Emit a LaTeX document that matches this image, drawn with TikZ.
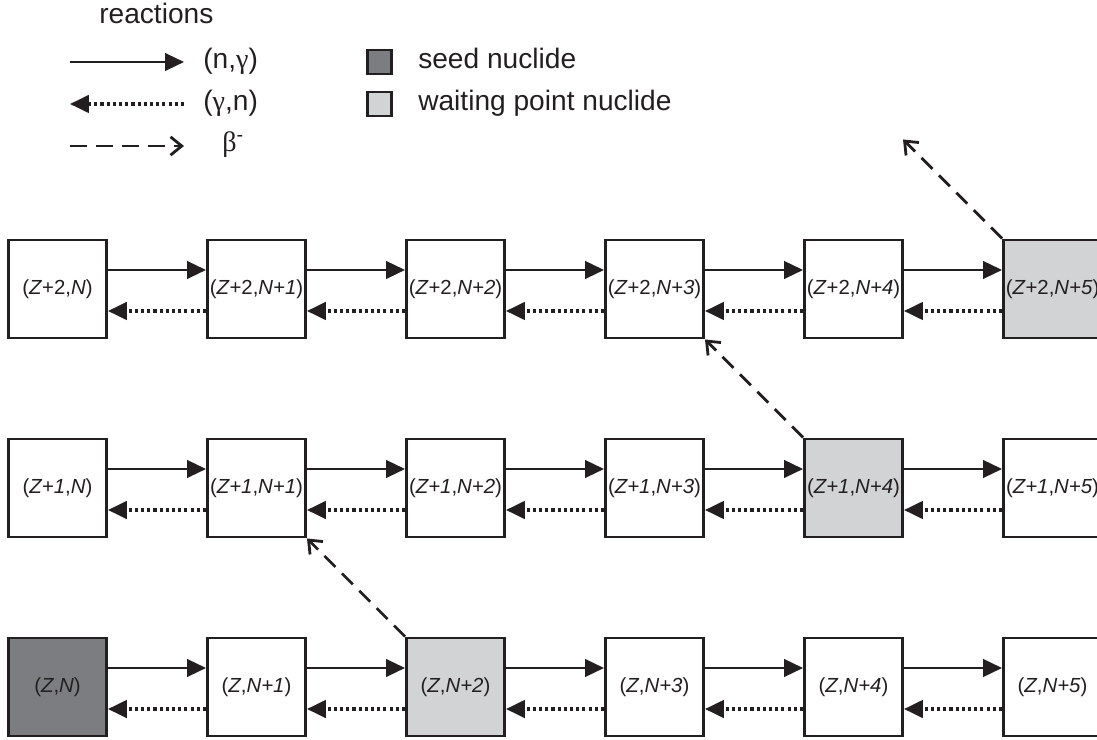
\documentclass[tikz,border=0pt]{standalone}
\usepackage{fontspec}
\setmainfont{Liberation Sans}
\newfontfamily\greekfont{Liberation Serif}
\usetikzlibrary{arrows.meta,positioning}
\definecolor{ink}{HTML}{231F20}
\definecolor{seedgray}{HTML}{7C7D80}
\definecolor{waitgray}{HTML}{D1D3D4}
\tikzset{
  nucbox/.style={rectangle, draw=ink, fill=#1, line width=2.1pt,
    minimum size=2.45cm, inner sep=0pt, text=ink,
    font=\fontsize{14.5}{17}\selectfont},
  nucbox/.default=white,
  keybox/.style={rectangle, draw=ink, fill=#1, line width=2.1pt,
    minimum size=0.6cm, inner sep=0pt},
  keytext/.style={text=ink, inner sep=0pt, anchor=base west,
    font=\fontsize{20}{24}\selectfont},
  ngarrow/.style={-{Triangle[length=13.5pt, width=12.5pt]},
    line width=1.8pt, draw=ink},
  gnarrow/.style={-{Triangle[length=13.5pt, width=12.5pt]},
    line width=2.2pt, draw=ink, dash pattern=on 2.2pt off 2.2pt},
  betaarrow/.style={-{Straight Barb[length=8pt, width=13pt]},
    line width=2pt, draw=ink, dash pattern=on 11pt off 6.5pt},
}
\begin{document}
\begin{tikzpicture}[x=0.025cm, y=-0.025cm, node distance=2.45cm and 2.45cm]
  \useasboundingbox (0,0) rectangle (1097,740);
  % legend
  \node[keytext] (reactions) at (99,24) {reactions};
  \coordinate (ngtail) at (70,62);
  \coordinate (nghead) at (184,62);
  \coordinate (gntail) at (184,104);
  \coordinate (gnhead) at (70,104);
  \coordinate (bttail) at (70,146);
  \coordinate (bthead) at (184,146);
  \draw[ngarrow] (ngtail) -- (nghead);
  \draw[gnarrow] (gntail) -- (gnhead);
  \draw[betaarrow, dash pattern=on 12pt off 6.5pt] (bttail) -- (bthead);
  \node[keytext] (nglabel) at (203,69) {(n,{\greekfont γ})};
  \node[keytext] (gnlabel) at (203,111) {({\greekfont γ},n)};
  \node[keytext] (btlabel) at (222,152) {{\greekfont β}\textsuperscript{-}};
  \node[keybox=seedgray] (seedkey) at (379.5,62) {};
  \node[keybox=waitgray] (waitkey) at (379.5,104) {};
  \node[keytext] (seedlabel) at (418,69) {seed nuclide};
  \node[keytext] (waitlabel) at (418,111) {waiting point nuclide};
  % row Z
  \node[nucbox=seedgray] (z0n0) at (57.5,687) {(\textit{Z},\textit{N})};
  \node[nucbox, right=of z0n0] (z0n1) {(\textit{Z},\textit{N+1})};
  \node[nucbox=waitgray, right=of z0n1] (z0n2) {(\textit{Z},\textit{N+2})};
  \node[nucbox, right=of z0n2] (z0n3) {(\textit{Z},\textit{N+3})};
  \node[nucbox, right=of z0n3] (z0n4) {(\textit{Z},\textit{N+4})};
  \node[nucbox, right=of z0n4] (z0n5) {(\textit{Z},\textit{N+5})};
  % row Z+1
  \node[nucbox, above=of z0n0] (z1n0) {(\textit{Z+1},\textit{N})};
  \node[nucbox, right=of z1n0] (z1n1) {(\textit{Z+1},\textit{N+1})};
  \node[nucbox, right=of z1n1] (z1n2) {(\textit{Z+1},\textit{N+2})};
  \node[nucbox, right=of z1n2] (z1n3) {(\textit{Z+1},\textit{N+3})};
  \node[nucbox=waitgray, right=of z1n3] (z1n4) {(\textit{Z+1},\textit{N+4})};
  \node[nucbox, right=of z1n4] (z1n5) {(\textit{Z+1},\textit{N+5})};
  % row Z+2
  \node[nucbox, above=of z1n0] (z2n0) {(\textit{Z}+2,\textit{N})};
  \node[nucbox, right=of z2n0] (z2n1) {(\textit{Z}+2,\textit{N+1})};
  \node[nucbox, right=of z2n1] (z2n2) {(\textit{Z}+2,\textit{N+2})};
  \node[nucbox, right=of z2n2] (z2n3) {(\textit{Z}+2,\textit{N+3})};
  \node[nucbox, right=of z2n3] (z2n4) {(\textit{Z}+2,\textit{N+4})};
  \node[nucbox=waitgray, right=of z2n4] (z2n5) {(\textit{Z}+2,\textit{N+5})};
  % (n,gamma)
  \draw[ngarrow] ([yshift=0.475cm]z0n0.east) -- ([yshift=0.475cm]z0n1.west);
  \draw[ngarrow] ([yshift=0.475cm]z0n1.east) -- ([yshift=0.475cm]z0n2.west);
  \draw[ngarrow] ([yshift=0.475cm]z0n2.east) -- ([yshift=0.475cm]z0n3.west);
  \draw[ngarrow] ([yshift=0.475cm]z0n3.east) -- ([yshift=0.475cm]z0n4.west);
  \draw[ngarrow] ([yshift=0.475cm]z0n4.east) -- ([yshift=0.475cm]z0n5.west);
  \draw[ngarrow] ([yshift=0.475cm]z1n0.east) -- ([yshift=0.475cm]z1n1.west);
  \draw[ngarrow] ([yshift=0.475cm]z1n1.east) -- ([yshift=0.475cm]z1n2.west);
  \draw[ngarrow] ([yshift=0.475cm]z1n2.east) -- ([yshift=0.475cm]z1n3.west);
  \draw[ngarrow] ([yshift=0.475cm]z1n3.east) -- ([yshift=0.475cm]z1n4.west);
  \draw[ngarrow] ([yshift=0.475cm]z1n4.east) -- ([yshift=0.475cm]z1n5.west);
  \draw[ngarrow] ([yshift=0.475cm]z2n0.east) -- ([yshift=0.475cm]z2n1.west);
  \draw[ngarrow] ([yshift=0.475cm]z2n1.east) -- ([yshift=0.475cm]z2n2.west);
  \draw[ngarrow] ([yshift=0.475cm]z2n2.east) -- ([yshift=0.475cm]z2n3.west);
  \draw[ngarrow] ([yshift=0.475cm]z2n3.east) -- ([yshift=0.475cm]z2n4.west);
  \draw[ngarrow] ([yshift=0.475cm]z2n4.east) -- ([yshift=0.475cm]z2n5.west);
  % (gamma,n)
  \draw[gnarrow] ([yshift=-0.55cm]z0n1.west) -- ([yshift=-0.55cm]z0n0.east);
  \draw[gnarrow] ([yshift=-0.55cm]z0n2.west) -- ([yshift=-0.55cm]z0n1.east);
  \draw[gnarrow] ([yshift=-0.55cm]z0n3.west) -- ([yshift=-0.55cm]z0n2.east);
  \draw[gnarrow] ([yshift=-0.55cm]z0n4.west) -- ([yshift=-0.55cm]z0n3.east);
  \draw[gnarrow] ([yshift=-0.55cm]z0n5.west) -- ([yshift=-0.55cm]z0n4.east);
  \draw[gnarrow] ([yshift=-0.55cm]z1n1.west) -- ([yshift=-0.55cm]z1n0.east);
  \draw[gnarrow] ([yshift=-0.55cm]z1n2.west) -- ([yshift=-0.55cm]z1n1.east);
  \draw[gnarrow] ([yshift=-0.55cm]z1n3.west) -- ([yshift=-0.55cm]z1n2.east);
  \draw[gnarrow] ([yshift=-0.55cm]z1n4.west) -- ([yshift=-0.55cm]z1n3.east);
  \draw[gnarrow] ([yshift=-0.55cm]z1n5.west) -- ([yshift=-0.55cm]z1n4.east);
  \draw[gnarrow] ([yshift=-0.55cm]z2n1.west) -- ([yshift=-0.55cm]z2n0.east);
  \draw[gnarrow] ([yshift=-0.55cm]z2n2.west) -- ([yshift=-0.55cm]z2n1.east);
  \draw[gnarrow] ([yshift=-0.55cm]z2n3.west) -- ([yshift=-0.55cm]z2n2.east);
  \draw[gnarrow] ([yshift=-0.55cm]z2n4.west) -- ([yshift=-0.55cm]z2n3.east);
  \draw[gnarrow] ([yshift=-0.55cm]z2n5.west) -- ([yshift=-0.55cm]z2n4.east);
  % beta decays
  \coordinate (z3n4) at ([shift={(-2.475cm,2.475cm)}]z2n5.north west);
  \draw[betaarrow] (z0n2.north west) -- (z1n1.south east);
  \draw[betaarrow] (z1n4.north west) -- (z2n3.south east);
  \draw[betaarrow] (z2n5.north west) -- (z3n4);
\end{tikzpicture}
\end{document}
